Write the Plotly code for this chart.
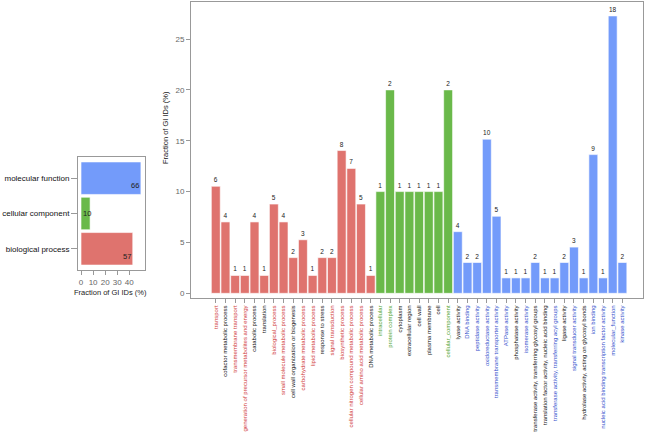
import plotly.graph_objects as go

# ---- data ----
bp_terms = ["transport", "cofactor metabolic process", "transmembrane transport",
            "generation of precursor metabolites and energy", "catabolic process", "translation",
            "biological_process", "small molecule metabolic process",
            "cell wall organization or biogenesis", "carbohydrate metabolic process",
            "lipid metabolic process", "response to stress", "signal transduction",
            "biosynthetic process", "cellular nitrogen compound metabolic process",
            "cellular amino acid metabolic process", "DNA metabolic process"]
bp_counts = [6, 4, 1, 1, 4, 1, 5, 4, 2, 3, 1, 2, 2, 8, 7, 5, 1]
bp_highlight = [1, 0, 1, 1, 0, 0, 1, 1, 0, 1, 1, 0, 1, 1, 1, 1, 0]

cc_terms = ["intracellular", "protein complex", "cytoplasm", "extracellular region",
            "cell wall", "plasma membrane", "cell", "cellular_component"]
cc_counts = [1, 2, 1, 1, 1, 1, 1, 2]
cc_highlight = [1, 1, 0, 0, 0, 0, 0, 1]

mf_terms = ["lyase activity", "DNA binding", "peptidase activity", "oxidoreductase activity",
            "transmembrane transporter activity", "ATPase activity", "phosphatase activity",
            "isomerase activity", "transferase activity, transferring glycosyl groups",
            "translation factor activity, nucleic acid binding",
            "transferase activity, transferring acyl groups", "ligase activity",
            "signal transducer activity", "hydrolase activity, acting on glycosyl bonds",
            "ion binding", "nucleic acid binding transcription factor activity",
            "molecular_function", "kinase activity"]
mf_counts = [4, 2, 2, 10, 5, 1, 1, 1, 2, 1, 1, 2, 3, 1, 9, 1, 18, 2]
mf_highlight = [0, 1, 1, 1, 1, 1, 0, 1, 0, 0, 1, 0, 1, 0, 1, 1, 1, 1]

group_names = ["biological process", "cellular component", "molecular function"]
group_counts = [57, 10, 66]
total_ids = 133

bar_colors = ["#df736e", "#6ab94a", "#739bfa"]
label_colors = ["#d03a3a", "#4f9f2f", "#3350cc"]

# ---- figure ----
fig = go.Figure()
font_family = "Liberation Sans, Arial, sans-serif"

groups = [(bp_terms, bp_counts, bp_highlight, group_counts[0]),
          (cc_terms, cc_counts, cc_highlight, group_counts[1]),
          (mf_terms, mf_counts, mf_highlight, group_counts[2])]

tickvals, ticktext = [], []
pos = 0
for gi, (terms, counts, hl, tot) in enumerate(groups):
    xs = list(range(pos, pos + len(terms)))
    ys = [c / tot * 100 for c in counts]
    fig.add_trace(go.Bar(
        x=xs, y=ys, text=[str(c) for c in counts], textposition="outside",
        textfont=dict(size=6.5, color="#222"), cliponaxis=False,
        marker=dict(color=bar_colors[gi], line=dict(color="white", width=0.6)),
        xaxis="x", yaxis="y", showlegend=False, hoverinfo="skip"))
    for x, t, h in zip(xs, terms, hl):
        tickvals.append(x)
        col = label_colors[gi] if h else "#111"
        ticktext.append(f'<span style="color:{col}">{t}</span>')
    pos += len(terms)

# left summary chart
pcts = [c / total_ids * 100 for c in group_counts]
fig.add_trace(go.Bar(
    x=pcts, y=group_names, orientation="h",
    marker=dict(color=bar_colors, line=dict(color="white", width=0.6)),
    xaxis="x2", yaxis="y2", showlegend=False, hoverinfo="skip"))

annotations = []
for name, p, c in zip(group_names, pcts, group_counts):
    if p > 15:
        annotations.append(dict(x=p, y=name, xref="x2", yref="y2", text=str(c),
                                xanchor="right", yanchor="top", yshift=-1, showarrow=False,
                                font=dict(size=7.5, color="#222", family=font_family)))
    else:
        annotations.append(dict(x=0, y=name, xref="x2", yref="y2", text=str(c),
                                xanchor="left", yanchor="middle", showarrow=False,
                                font=dict(size=7.5, color="#222", family=font_family)))

W, H = 650, 439
annotations.append(dict(x=166 / W, y=1 - 128 / H, xref="paper", yref="paper",
                        xanchor="center", yanchor="middle",
                        text="Fraction of GI IDs (%)", textangle=-90, showarrow=False,
                        font=dict(size=7.5, color="#222", family=font_family)))
annotations.append(dict(x=110 / W, y=1 - 292 / H, xref="paper", yref="paper",
                        xanchor="center", yanchor="middle",
                        text="Fraction of GI IDs (%)", showarrow=False,
                        font=dict(size=7.5, color="#222", family=font_family)))

axis_line = "#999"
fig.update_layout(
    width=W, height=H, margin=dict(l=0, r=0, t=0, b=0),
    paper_bgcolor="white", plot_bgcolor="white",
    font=dict(family=font_family, color="#222"),
    bargap=0.08,
    annotations=annotations,
    xaxis=dict(domain=[191 / W, 643 / W], anchor="y", range=[-2.56, 44.13],
               tickvals=tickvals, ticktext=ticktext, tickangle=-90, automargin=False,
               tickfont=dict(size=6), ticks="outside", ticklen=4, tickcolor=axis_line,
               showline=True, linecolor=axis_line, mirror=True, showgrid=False,
               zeroline=False),
    yaxis=dict(domain=[1 - 298 / H, 1 - 2 / H], anchor="x", range=[-0.46, 28.64],
               tickvals=[0, 5, 10, 15, 20, 25], tickfont=dict(size=8, color="#666"),
               ticks="outside", ticklen=4, tickcolor=axis_line, automargin=False,
               showline=True, linecolor=axis_line, mirror=True, showgrid=False,
               zeroline=False),
    xaxis2=dict(domain=[78 / W, 145 / W], anchor="y2", range=[-2.5, 53],
                tickvals=[0, 10, 20, 30, 40], tickfont=dict(size=8, color="#666"),
                ticks="outside", ticklen=4, tickcolor=axis_line, automargin=False,
                showline=True, linecolor=axis_line, mirror=True, showgrid=False,
                zeroline=False),
    yaxis2=dict(domain=[1 - 270 / H, 1 - 157 / H], anchor="x2", range=[-0.6, 2.6],
                categoryorder="array", categoryarray=group_names, automargin=False,
                tickfont=dict(size=8, color="#111"),
                ticks="outside", ticklen=6, tickcolor=axis_line,
                showline=True, linecolor=axis_line, mirror=True, showgrid=False,
                zeroline=False),
)

fig.write_html("out.html", config={"displayModeBar": False},
               post_script="document.body.style.margin='0';document.body.style.padding='0';")
